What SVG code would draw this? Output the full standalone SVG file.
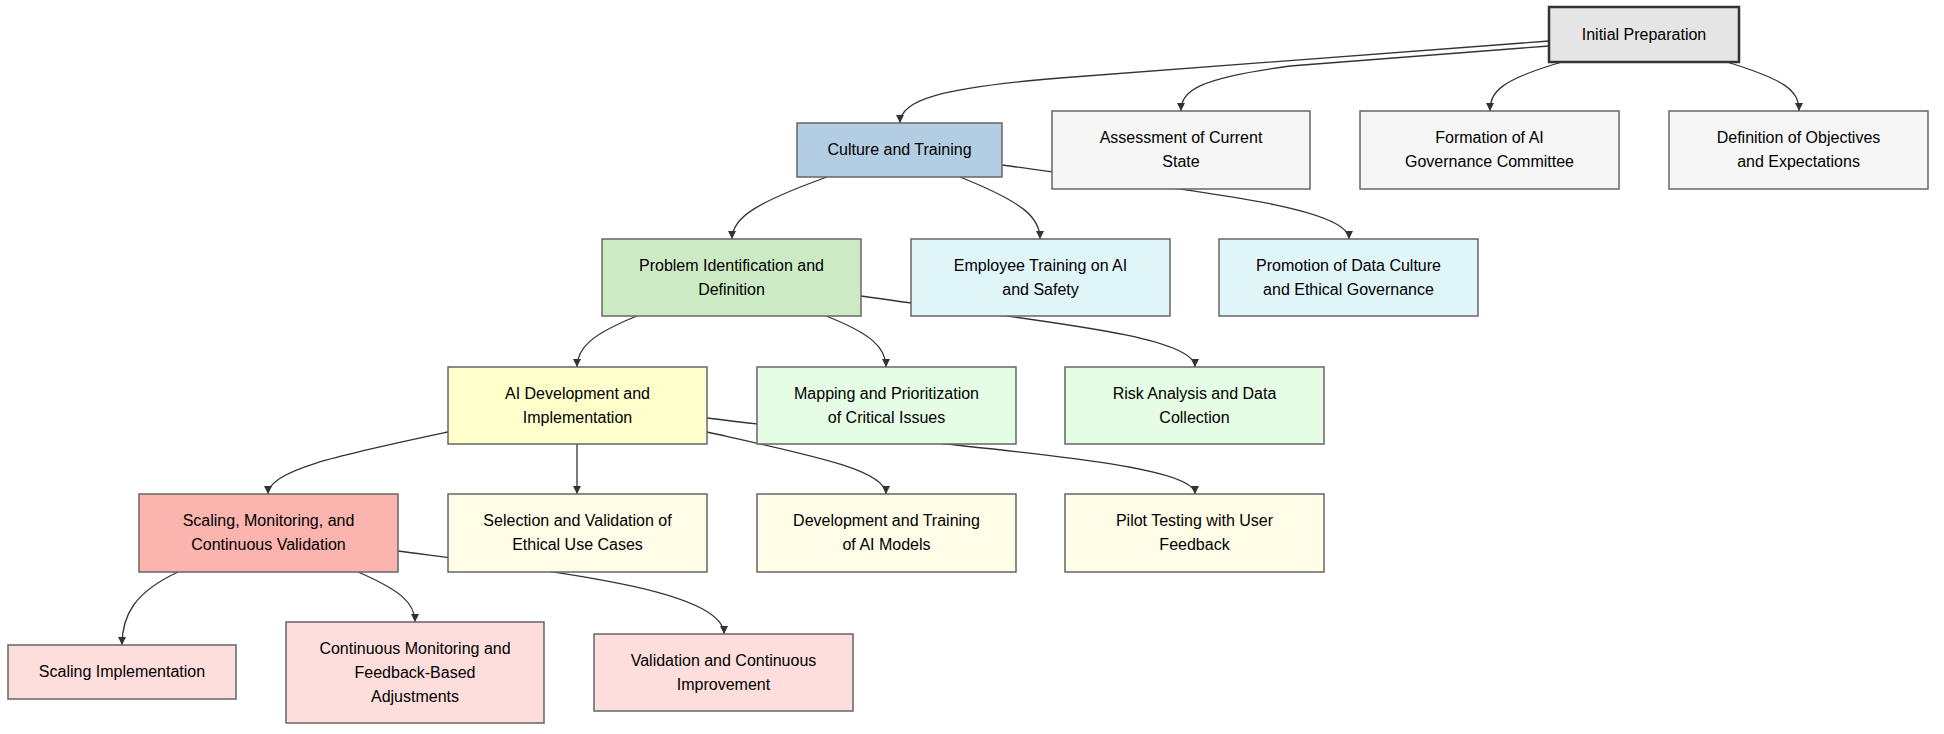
<svg xmlns="http://www.w3.org/2000/svg" width="1944" height="734" viewBox="0 0 1944 734">
<defs>
<marker id="arr" viewBox="0 0 10 10" refX="10" refY="5" markerWidth="8" markerHeight="8" markerUnits="userSpaceOnUse" orient="auto">
<path d="M0,0 L10,5 L0,10 z" fill="#333"/>
</marker>
</defs>
<style>
.e{fill:none;stroke:#333;stroke-width:1.3;marker-end:url(#arr)}
.n rect{stroke:#666;stroke-width:1.5}
.n text{font-family:"Liberation Sans",Arial,sans-serif;font-size:16px;fill:#000;text-anchor:middle}
.g rect{fill:#f6f6f6}
.c rect{fill:#e0f5f8}
.m rect{fill:#e5fce5}
.y rect{fill:#fffde7}
.p rect{fill:#fddedc}
</style>
<rect width="1944" height="734" fill="#fff"/>
<g id="edges">
<path class="e" d="M1549,41 L1060,78 C940,88 900,100 900,123"/>
<path class="e" d="M1549,46 L1290,66 C1200,78 1181,90 1181,111"/>
<path class="e" d="M1562,62 C1500,80 1490,92 1490,111"/>
<path class="e" d="M1727,62 C1785,80 1799,90 1799,111"/>
<path class="e" d="M827,177 C755,203 732,218 732,239"/>
<path class="e" d="M960,177 C1025,203 1040,218 1040,239"/>
<path class="e" d="M1002,165 C1180,190 1349,205 1349,239"/>
<path class="e" d="M637,316 C592,334 577,348 577,367"/>
<path class="e" d="M826,316 C872,334 886,348 886,367"/>
<path class="e" d="M861,296 C1035,321 1195,335 1195,367"/>
<path class="e" d="M448,432 C340,455 268,470 268,494"/>
<path class="e" d="M577,444 L577,494"/>
<path class="e" d="M707,432 C810,455 886,470 886,494"/>
<path class="e" d="M707,418 C950,448 1195,460 1195,494"/>
<path class="e" d="M178,572 C135,592 122,615 122,645"/>
<path class="e" d="M358,572 C400,590 415,603 415,622"/>
<path class="e" d="M398,551 C560,572 724,590 724,634"/>
</g>
<g id="n0" class="n"><rect x="1549" y="7" width="190" height="55" fill="#e5e5e5" style="stroke:#333;stroke-width:2.5"/><text x="1644" y="39.5">Initial Preparation</text></g>
<g id="n1" class="n"><rect x="797" y="123" width="205" height="54" fill="#b3cde3"/><text x="899.5" y="155">Culture and Training</text></g>
<g id="n2" class="n g"><rect x="1052" y="111" width="258" height="78"/><text x="1181" y="143">Assessment of Current</text><text x="1181" y="167">State</text></g>
<g id="n3" class="n g"><rect x="1360" y="111" width="259" height="78"/><text x="1489.5" y="143">Formation of AI</text><text x="1489.5" y="167">Governance Committee</text></g>
<g id="n4" class="n g"><rect x="1669" y="111" width="259" height="78"/><text x="1798.5" y="143">Definition of Objectives</text><text x="1798.5" y="167">and Expectations</text></g>
<g id="n5" class="n"><rect x="602" y="239" width="259" height="77" fill="#ccebc5"/><text x="731.5" y="270.5">Problem Identification and</text><text x="731.5" y="294.5">Definition</text></g>
<g id="n6" class="n c"><rect x="911" y="239" width="259" height="77"/><text x="1040.5" y="270.5">Employee Training on AI</text><text x="1040.5" y="294.5">and Safety</text></g>
<g id="n7" class="n c"><rect x="1219" y="239" width="259" height="77"/><text x="1348.5" y="270.5">Promotion of Data Culture</text><text x="1348.5" y="294.5">and Ethical Governance</text></g>
<g id="n8" class="n"><rect x="448" y="367" width="259" height="77" fill="#ffffcc"/><text x="577.5" y="398.5">AI Development and</text><text x="577.5" y="422.5">Implementation</text></g>
<g id="n9" class="n m"><rect x="757" y="367" width="259" height="77"/><text x="886.5" y="398.5">Mapping and Prioritization</text><text x="886.5" y="422.5">of Critical Issues</text></g>
<g id="n10" class="n m"><rect x="1065" y="367" width="259" height="77"/><text x="1194.5" y="398.5">Risk Analysis and Data</text><text x="1194.5" y="422.5">Collection</text></g>
<g id="n11" class="n"><rect x="139" y="494" width="259" height="78" fill="#fbb4ae"/><text x="268.5" y="526">Scaling, Monitoring, and</text><text x="268.5" y="550">Continuous Validation</text></g>
<g id="n12" class="n y"><rect x="448" y="494" width="259" height="78"/><text x="577.5" y="526">Selection and Validation of</text><text x="577.5" y="550">Ethical Use Cases</text></g>
<g id="n13" class="n y"><rect x="757" y="494" width="259" height="78"/><text x="886.5" y="526">Development and Training</text><text x="886.5" y="550">of AI Models</text></g>
<g id="n14" class="n y"><rect x="1065" y="494" width="259" height="78"/><text x="1194.5" y="526">Pilot Testing with User</text><text x="1194.5" y="550">Feedback</text></g>
<g id="n15" class="n p"><rect x="8" y="645" width="228" height="54"/><text x="122" y="677">Scaling Implementation</text></g>
<g id="n16" class="n p"><rect x="286" y="622" width="258" height="101"/><text x="415" y="653.5">Continuous Monitoring and</text><text x="415" y="677.5">Feedback-Based</text><text x="415" y="701.5">Adjustments</text></g>
<g id="n17" class="n p"><rect x="594" y="634" width="259" height="77"/><text x="723.5" y="665.5">Validation and Continuous</text><text x="723.5" y="689.5">Improvement</text></g>
</svg>
